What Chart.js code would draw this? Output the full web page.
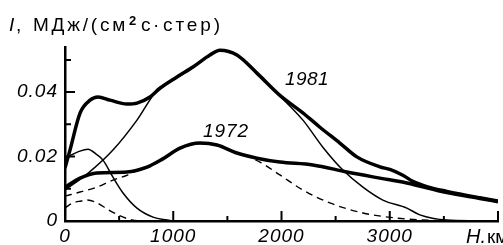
<!DOCTYPE html>
<html><head><meta charset="utf-8">
<script src="https://cdn.jsdelivr.net/npm/chart.js@4"></script>
<style>html,body{margin:0;padding:0;background:#fff}#wrap{width:503px;height:245px;position:relative}</style>
</head><body><div id="wrap"><canvas id="c"></canvas></div>
<script>
// Height H (km) and intensity I, МДж/(см²·с·стер)
const total1981_H = [0, 46, 139, 231, 305, 416, 572, 665, 785, 877, 1034, 1182, 1339, 1431, 1588, 1773, 1985, 2200, 2355, 2539, 2696, 2909, 3001, 3121, 3213, 3350, 3527, 3832, 4000];
const total1981_I = [0.0164, 0.022, 0.0335, 0.0375, 0.0385, 0.0375, 0.0363, 0.0366, 0.0385, 0.0412, 0.0447, 0.0478, 0.0515, 0.053, 0.0515, 0.0459, 0.039, 0.0335, 0.0291, 0.0242, 0.0199, 0.0168, 0.016, 0.0142, 0.0123, 0.0106, 0.0092, 0.0072, 0.0062];

const comp1981Big_H = [0, 220, 443, 665, 850, 1034, 1182, 1339, 1431, 1588, 1773, 1985, 2198, 2382, 2567, 2752, 2936, 3158, 3278, 3527, 3800, 4000];
const comp1981Big_I = [0.0096, 0.015, 0.022, 0.0313, 0.0406, 0.0444, 0.0477, 0.0514, 0.053, 0.0515, 0.0459, 0.0388, 0.0313, 0.0229, 0.0158, 0.0105, 0.0065, 0.004, 0.0019, 0.0003, 0.0001, 0];

const comp1981Small_H = [0, 60, 130, 212, 290, 351, 443, 536, 665, 813, 942, 1000];
const comp1981Small_I = [0.0195, 0.0205, 0.0216, 0.0223, 0.0207, 0.0189, 0.0136, 0.0087, 0.004, 0.0012, 0.0003, 0];

const total1972_H = [0, 139, 295, 572, 757, 900, 1062, 1247, 1404, 1588, 1773, 1985, 2290, 2604, 2909, 3158, 3527, 3832, 4000];
const total1972_I = [0.0105, 0.0133, 0.0149, 0.0152, 0.0167, 0.0192, 0.0226, 0.0242, 0.0236, 0.0211, 0.0195, 0.0183, 0.0174, 0.0152, 0.0133, 0.0118, 0.0088, 0.007, 0.006];

const comp1972Small_H = [0, 74, 150, 200, 280, 400, 510, 620, 700];
const comp1972Small_I = [0.0041, 0.0056, 0.0062, 0.0065, 0.0059, 0.0035, 0.0016, 0.0003, 0];

const comp1972Big_H = [0, 139, 295, 443, 582, 620, 757, 900, 1062, 1247, 1404, 1588, 1700, 1801, 1985, 2198, 2447, 2752, 3066, 3400, 3700];
const comp1972Big_I = [0.0077, 0.009, 0.0105, 0.0127, 0.0143, 0.015, 0.0165, 0.019, 0.0224, 0.024, 0.0234, 0.021, 0.0198, 0.0183, 0.0143, 0.0096, 0.0056, 0.0025, 0.0009, 0.0002, 0];

const xTickValues = [0, 1000, 2000, 3000];
const xTickLabels = ['0', '1000', '2000', '3000'];
const yTickValues = [0, 0.02, 0.04];
const yTickLabels = ['0', '0.02', '0.04'];
const xMajorMarks = [1000, 2000, 3000, 4000];
const xMinorMarks = [500, 1500, 2500, 3500];
const yMajorMarks = [0.02, 0.04];
const yMinorMarks = [0.01, 0.03, 0.05];

const seriesLabels = ['1981', '1972'];
const axisUnitX = ['H.', 'км'];

const pts = (xs, ys) => xs.map((x, i) => ({x: x, y: ys[i]}));
const FONT = 'Liberation Sans, Arial, sans-serif';

const base = {pointRadius: 0, borderColor: '#000', fill: false, cubicInterpolationMode: 'monotone'};

const decor = {
  id: 'decor',
  beforeDraw(chart) { chart.ctx.letterSpacing = '1px'; },
  afterDraw(chart) {
    const ctx = chart.ctx, xs = chart.scales.x, ys = chart.scales.y;
    const ca = chart.chartArea;
    ctx.save();
    ctx.strokeStyle = '#000';
    ctx.lineWidth = 2;
    ctx.beginPath();
    yMajorMarks.forEach(v => { const p = ys.getPixelForValue(v); ctx.moveTo(ca.left, p); ctx.lineTo(ca.left + 10, p); });
    yMinorMarks.forEach(v => { const p = ys.getPixelForValue(v); ctx.moveTo(ca.left, p); ctx.lineTo(ca.left + 6, p); });
    xMajorMarks.forEach(v => { const p = xs.getPixelForValue(v); ctx.moveTo(p, ca.bottom); ctx.lineTo(p, ca.bottom - 10); });
    xMinorMarks.forEach(v => { const p = xs.getPixelForValue(v); ctx.moveTo(p, ca.bottom); ctx.lineTo(p, ca.bottom - 5); });
    ctx.stroke();

    ctx.fillStyle = '#000';
    ctx.textBaseline = 'alphabetic';
    ctx.textAlign = 'left';
    function fit(text, font, x, y, w) {
      ctx.font = font;
      ctx.letterSpacing = '0px';
      const m = ctx.measureText(text).width;
      const sp = w ? (w - m) / Math.max(1, text.length) : 0;
      ctx.letterSpacing = sp + 'px';
      ctx.fillText(text, x, y);
      ctx.letterSpacing = '0px';
    }
    // title
    fit('I', 'italic 19px ' + FONT, 9, 31, 0);
    fit(',', '19px ' + FONT, 16, 31, 0);
    fit('МДж/(см', '19px ' + FONT, 33, 31, 95);
    fit('2', 'bold 13px ' + FONT, 129, 25, 0);
    fit('с', '19px ' + FONT, 141, 31, 0);
    fit('·', '19px ' + FONT, 153, 31, 0);
    fit('стер)', '19px ' + FONT, 163, 31, 60);
    // series labels
    fit(seriesLabels[0], 'italic 19px ' + FONT, 285, 85, 44);
    fit(seriesLabels[1], 'italic 19px ' + FONT, 203, 137, 46);
    // x unit
    fit(axisUnitX[0], 'italic 20px ' + FONT, 466, 243, 0);
    fit(axisUnitX[1], '19px ' + FONT, 487, 243, 0);
    ctx.restore();
  }
};

const tickFont = {family: FONT, style: 'italic', size: 19};

new Chart(document.getElementById('c'), {
  type: 'line',
  data: {
    datasets: [
      Object.assign({}, base, {data: pts(comp1972Big_H, comp1972Big_I), borderWidth: 1.4, borderDash: [7, 5]}),
      Object.assign({}, base, {data: pts(comp1972Small_H, comp1972Small_I), borderWidth: 1.4, borderDash: [7, 5]}),
      Object.assign({}, base, {data: pts(comp1981Small_H, comp1981Small_I), borderWidth: 1.5}),
      Object.assign({}, base, {data: pts(comp1981Big_H, comp1981Big_I), borderWidth: 1.5}),
      Object.assign({}, base, {data: pts(total1972_H, total1972_I), borderWidth: 3.5}),
      Object.assign({}, base, {data: pts(total1981_H, total1981_I), borderWidth: 3.5})
    ]
  },
  options: {
    responsive: true,
    maintainAspectRatio: false,
    animation: false,
    layout: {padding: {top: 47, right: 5, left: 0, bottom: 0}},
    plugins: {legend: {display: false}, tooltip: {enabled: false}},
    scales: {
      x: {
        type: 'linear', min: 0, max: 4000,
        grid: {display: true, drawOnChartArea: false, drawTicks: false, color: 'rgba(0,0,0,0)'},
        border: {display: true, color: '#000', width: 2.5},
        ticks: {
          stepSize: 500, autoSkip: false, maxRotation: 0, padding: 4, color: '#000', font: tickFont,
          callback: v => { const i = xTickValues.indexOf(v); return i >= 0 ? xTickLabels[i] : ''; }
        },
        afterFit(s) { s.height = 24; }
      },
      y: {
        min: 0, max: 0.054,
        grid: {display: true, drawOnChartArea: false, drawTicks: false, color: 'rgba(0,0,0,0)'},
        border: {display: true, color: '#000', width: 2.5},
        ticks: {
          stepSize: 0.01, autoSkip: false, padding: 7, color: '#000', font: tickFont,
          callback: v => { const i = yTickValues.findIndex(t => Math.abs(t - v) < 1e-9); return i >= 0 ? yTickLabels[i] : ''; }
        },
        afterFit(s) { s.width = 65; }
      }
    }
  },
  plugins: [decor]
});
</script>
</body></html>
